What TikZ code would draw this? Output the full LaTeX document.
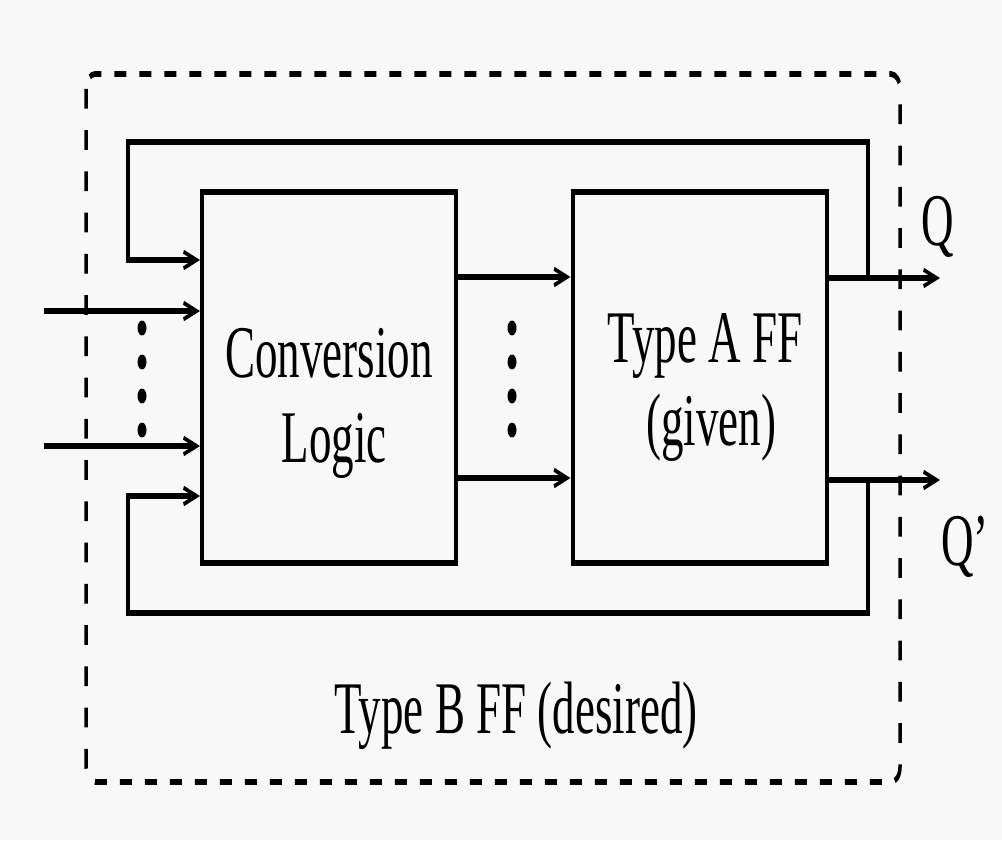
\documentclass[tikz,border=0pt]{standalone}
\usepackage{fontspec}
\setmainfont{Liberation Serif}
\usetikzlibrary{arrows.meta}
\definecolor{bgc}{RGB}{248,248,248}
\begin{document}
\begin{tikzpicture}[x=1pt,y=-0.606061pt,
  wire/.style={line width=4pt},
  arr/.style={wire,-{Straight Barb[length=13pt,width=10pt,line width=2.5pt]}},
  box/.style={draw,line width=4pt,minimum width=254pt,minimum height=224.85pt,inner sep=0pt},
  lbl/.style={font=\fontsize{45}{52}\selectfont,inner sep=0pt,anchor=base},
  dotm/.style={fill=black}]
\fill[bgc] (0,0) rectangle (1002,1386);
\useasboundingbox (0,0) rectangle (1002,1386);
\begin{scope}[transform canvas={yscale=1.65}]
  % outer dashed border
  \draw[line width=3.5pt,dash pattern=on 12pt off 13pt,rounded corners=9pt] (86,74) rectangle (900,782);
  % boxes
  \node[box] (cl) at (329,377.5) {};
  \node[box] (ff) at (699.5,377.5) {};
  % texts
  \node[lbl] (t1) at (329,377) {Conversion};
  \node[lbl] (t2) at (334,462) {Logic};
  \node[lbl] (t3) at (705,362) {Type A FF};
  \node[lbl] (t4) at (711,445) {(given)};
  \node[lbl] (tb) at (516,733) {Type B FF (desired)};
  \node[lbl] (q) at (938,245) {Q};
  \node[lbl] (qp) at (965,565) {Q'};
  % coordinates
  \coordinate (qo) at (868,278);
  \coordinate (qpo) at (868,480);
  \coordinate (qend) at (940,278);
  \coordinate (qpend) at (940,480);
  \coordinate (in1) at (44,311);
  \coordinate (in2) at (44,446);
  \coordinate (fbt) at (128,260);
  \coordinate (fbb) at (128,496);
  \coordinate (m1) at (456,277);
  \coordinate (m2) at (456,478);
  % outputs
  \draw[arr] (ff.east |- qo) -- (qend);
  \draw[arr] (ff.east |- qpo) -- (qpend);
  % feedback loops
  \draw[arr] (qo) |- (128,142) -- (fbt) -- (fbt -| cl.west);
  \draw[arr] (qpo) |- (128,613) -- (fbb) -- (fbb -| cl.west);
  % inputs
  \draw[arr] (in1) -- (in1 -| cl.west);
  \draw[arr] (in2) -- (in2 -| cl.west);
  % middle
  \draw[arr] (m1 -| cl.east) -- (m1 -| ff.west);
  \draw[arr] (m2 -| cl.east) -- (m2 -| ff.west);
  % dots
  \foreach \yy in {328,362,396,430} {
    \fill[dotm] (142,\yy) circle[radius=4.5pt];
    \fill[dotm] (512,\yy) circle[radius=4.5pt];
  }
\end{scope}
\end{tikzpicture}
\end{document}
